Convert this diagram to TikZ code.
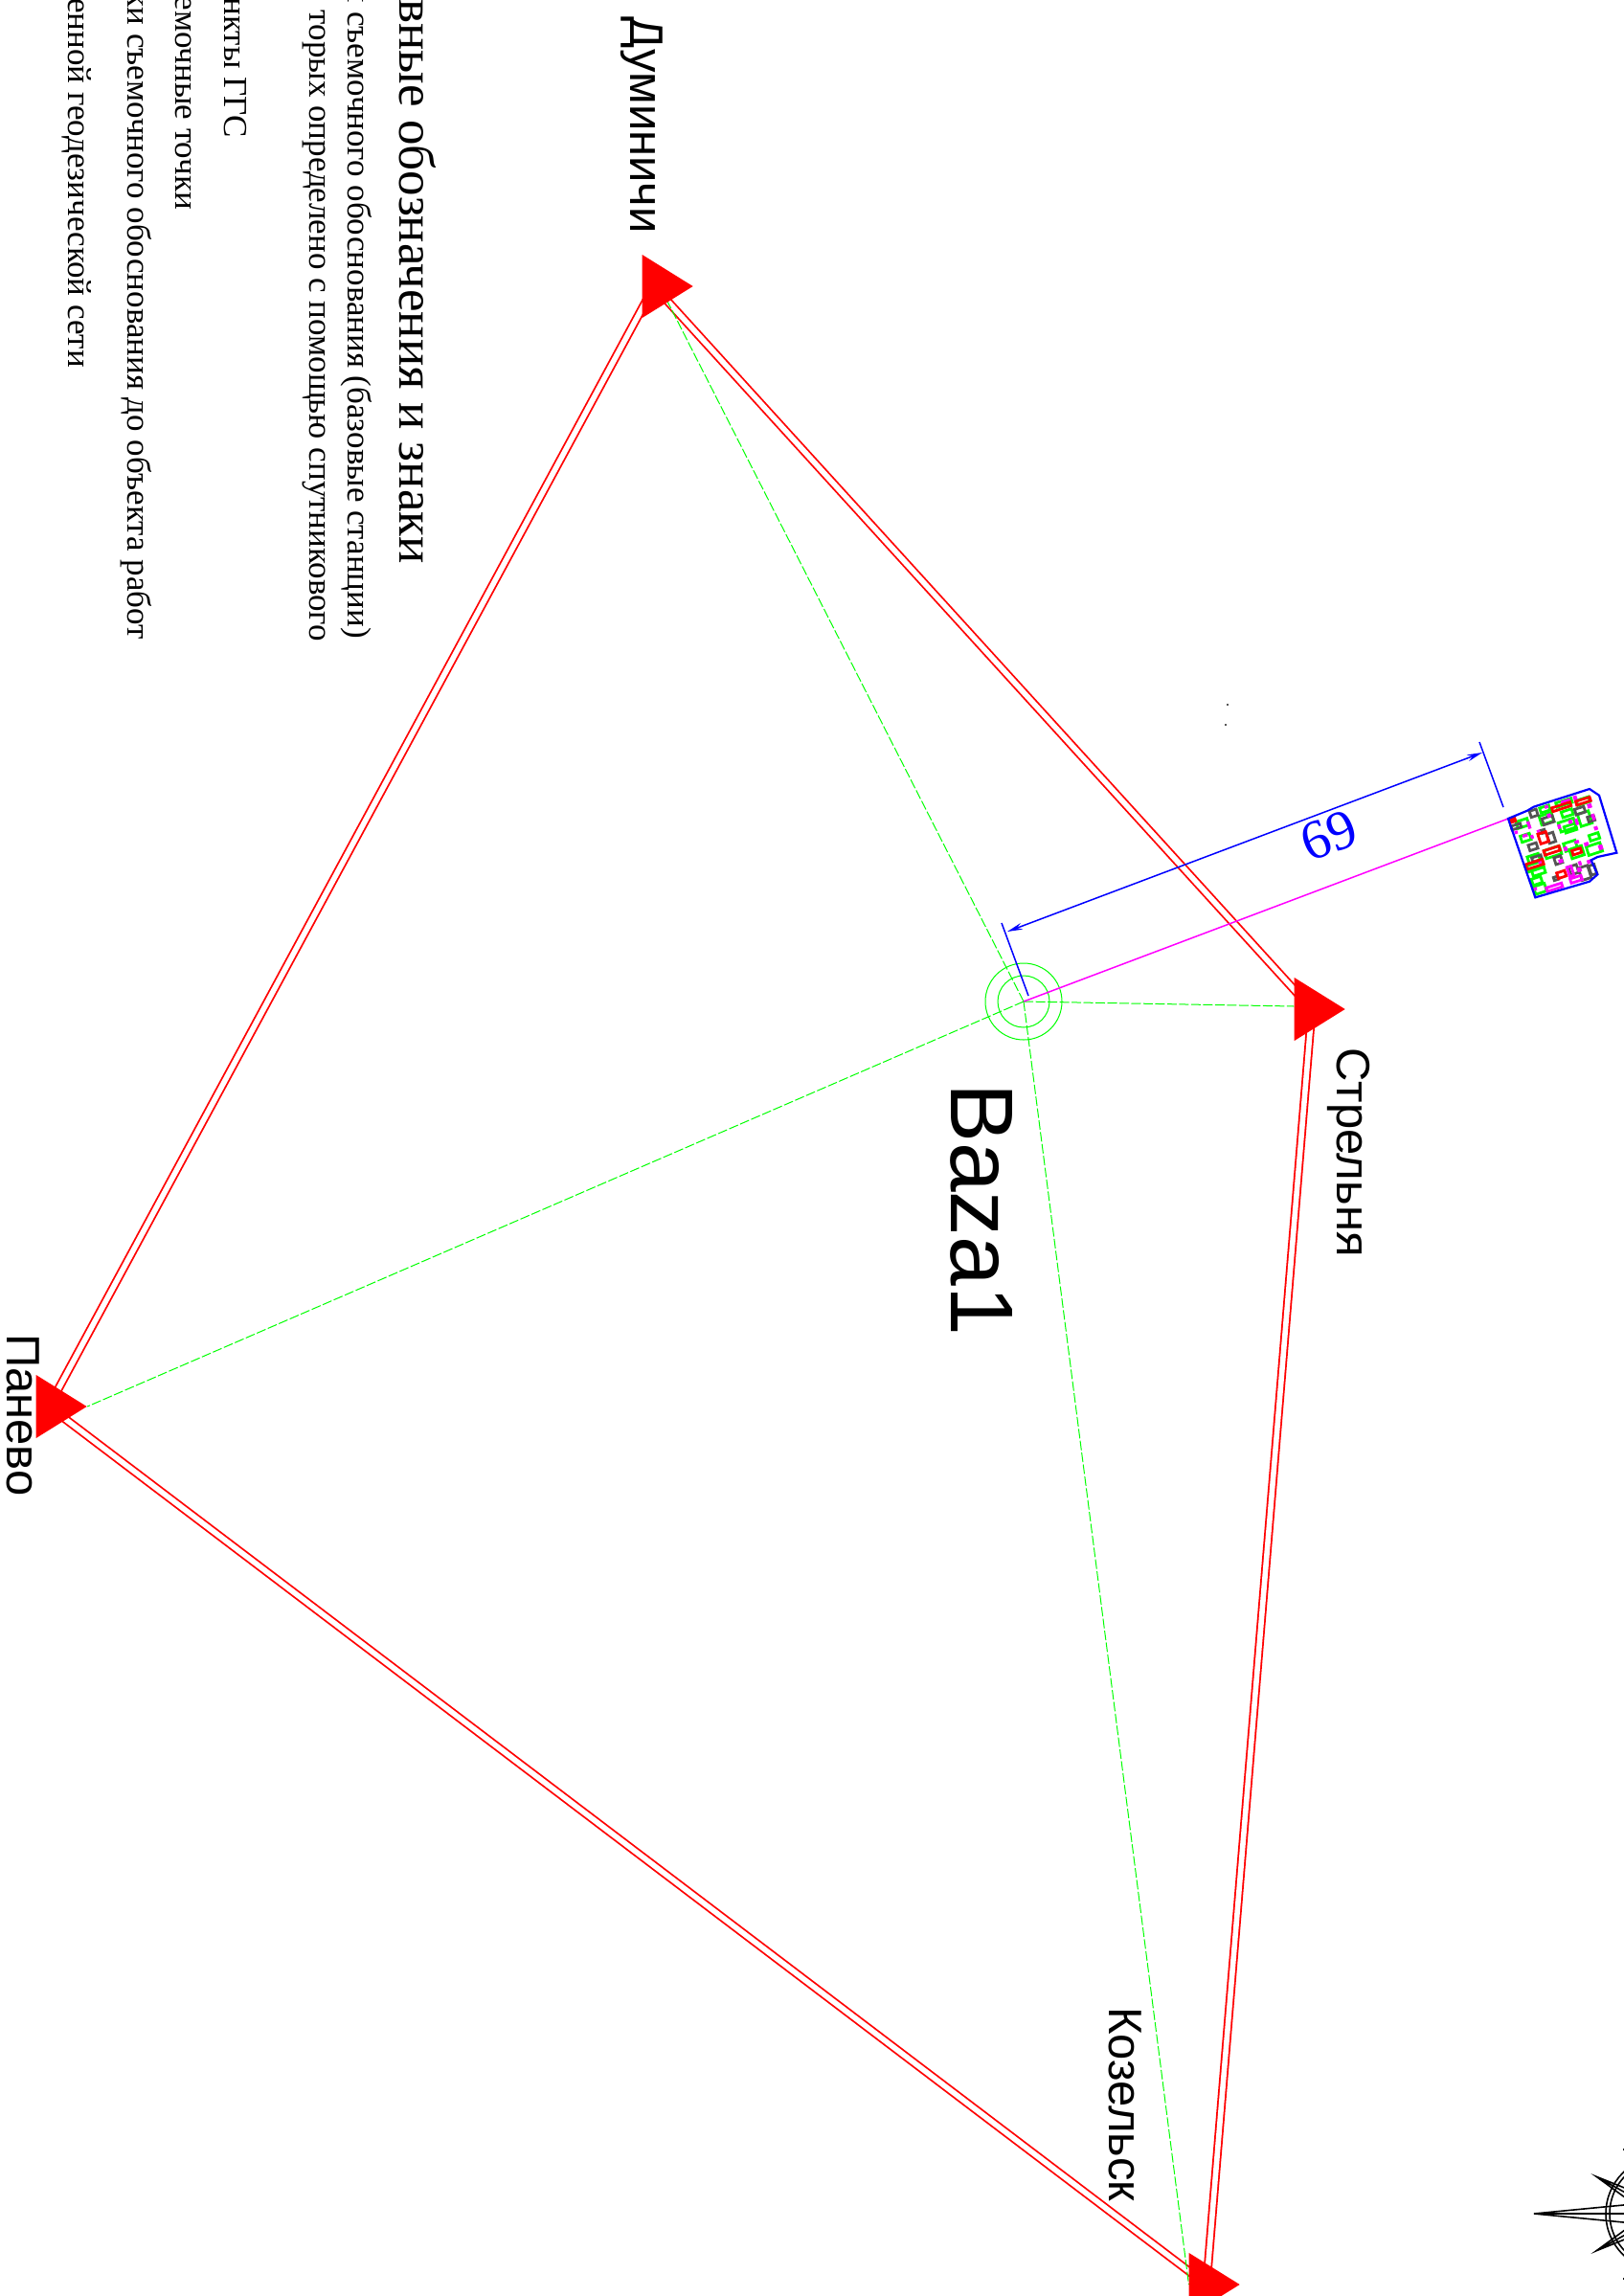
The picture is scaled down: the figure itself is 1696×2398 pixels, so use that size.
\documentclass[tikz,border=0pt]{standalone}
\usepackage{fontspec}
\setmainfont{Liberation Serif}
\newfontfamily\labelsans{Liberation Sans}
\usetikzlibrary{shapes.geometric}
\usetikzlibrary{arrows.meta}
\usetikzlibrary{backgrounds}
\definecolor{sitemagenta}{RGB}{255,0,255}
\definecolor{sitegray}{RGB}{85,85,85}
\tikzset{
	station/.style={isosceles triangle, isosceles triangle stretches, minimum width=66pt, minimum height=53pt, inner sep=0pt, fill=red},
	redlink/.style={draw=red, line width=1.8pt, double=white, double distance=5.6pt},
	greenlink/.style={draw=green, line width=1pt, dash pattern=on 10pt off 2.5pt},
	ring/.style={circle, draw=green, line width=1pt, inner sep=0pt},
	stationlabel/.style={rotate=-90, anchor=base west, inner sep=0pt, font=\labelsans\fontsize{49}{49}\selectfont},
	legendhead/.style={rotate=-90, anchor=base east, inner sep=0pt, font=\fontsize{53}{53}\selectfont},
	legendline/.style={rotate=-90, anchor=base east, inner sep=0pt, font=\fontsize{35}{35}\selectfont},
	dimline/.style={draw=blue, line width=1.5pt},
	bld/.style={line width=2.8pt}
}
\begin{document}
\begin{tikzpicture}[x=1pt,y=-1pt]
			\useasboundingbox (0,0) rectangle (1696,2398);
			\node[legendhead] (head) at (417,589) {вные обозначения и знаки};
			\node[legendline] (leg1) at (363,667) {ы съемочного обоснования (базовые станции)};
			\node[legendline] (leg2) at (323,670) {торых определено с помощью спутникового};
			\node[legendline] (leg3) at (234,144) {нкты ГГС};
			\node[legendline] (leg4) at (183,219) {емочные точки};
			\node[legendline] (leg5) at (133,668) {ки съемочного обоснования до объекта работ};
			\node[legendline] (leg6) at (71,384) {енной геодезической сети};
			\node[station] (dum) at (689,299) {};
			\node[station] (strel) at (1370,1054) {};
			\node[station] (pan) at (56,1469) {};
			\node[station] (koz) at (1260,2386) {};
			\node[stationlabel] (dumlabel) at (658,17) {Думиничи};
			\node[stationlabel] (strellabel) at (1396,1094) {Стрельня};
			\node[stationlabel] (panlabel) at (7,1393) {Панево};
			\node[stationlabel] (kozlabel) at (1158,2096) {Козельск};
			\node[ring, minimum size=80pt] (bazaout) at (1069,1046) {};
			\node[ring, minimum size=54pt] (baza) at (1069,1046) {};
			\node[rotate=-90, anchor=base west, inner sep=0pt, font=\labelsans\fontsize{93}{93}\selectfont] (bazalabel) at (993,1131) {Baza1};
			\begin{scope}[on background layer]
				\draw [redlink] ([xshift=-6pt]dum.center) to (strel.center);
				\draw [redlink] (strel.center) to (koz.center);
				\draw [redlink] (koz.center) to ([xshift=-5pt]pan.center);
				\draw [redlink] ([xshift=-5pt]pan.center) to ([xshift=-6pt]dum.center);
				\draw [greenlink] (baza.center) to (dum.center);
				\draw [greenlink] (baza.center) to ([yshift=3pt]strel.west);
				\draw [greenlink] (baza.center) to (pan.east);
				\draw [greenlink] (baza.center) to (koz.west);
			\end{scope}
			\coordinate (sitecorner) at (1575,855);
			\coordinate (exta) at (1074,1040);
			\coordinate (extb) at (1046,964);
			\coordinate (extc) at (1570,843);
			\coordinate (extd) at (1545,775);
			\coordinate (dima) at (1052,973);
			\coordinate (dimb) at (1548,786);
			\draw [sitemagenta, line width=1.5pt] (baza.center) to (sitecorner);
			\draw [dimline] (exta) to (extb);
			\draw [dimline] (extc) to (extd);
			\draw [dimline, {Stealth[length=16pt,width=7pt]}-{Stealth[length=16pt,width=7pt]}] (dima) to (dimb);
			\node[rotate=20.7, text=blue, inner sep=0pt, font=\fontsize{58}{58}\selectfont] (dimlabel) at (1388,873) {69};
			\fill [sitegray] (1281,735) rectangle (1283,737);
			\fill [sitegray] (1279,756) rectangle (1281,758);
			\begin{scope}[shift={(1540,800)},scale=1/3]
				\foreach \cx/\cy/\w/\h in {150/180/36/22,160/225/30/20,185/290/36/22,200/330/40/20,195/360/30/20,205/385/36/25,220/135/30/16,290/148/34/18,225/165/40/28,290/185/50/30,300/195/36/20,345/165/36/40,375/222/30/18,375/260/45/28,300/250/38/25,245/270/50/26,340/110/40/16,280/115/50/14,320/270/40/30,190/315/50/20}
					\draw [bld, green, shift={(\cx,\cy)}, rotate=18] (-\w/2,-\h/2) rectangle (\w/2,\h/2);
				\foreach \cx/\cy/\w/\h in {185/148/22/20,230/170/34/20,130/190/30/12,240/225/20/30,183/253/26/18,195/290/30/14,262/295/22/22,330/140/30/18,365/165/20/16,310/325/26/26,345/335/30/40,370/325/18/30,255/352/14/10,215/205/10/10}
					\draw [bld, sitegray, shift={(\cx,\cy)}, rotate=18] (-\w/2,-\h/2) rectangle (\w/2,\h/2);
				\foreach \cx/\cy/\w/\h in {170/185/10/24,158/218/16/10,180/222/10/12,130/208/10/10,200/205/10/10,233/155/12/12,225/128/12/10,315/100/12/14,285/110/30/10,265/190/10/14,300/175/12/12,320/175/10/20,360/125/14/14,372/160/10/20,380/195/12/12,350/245/14/12,320/238/14/10,285/260/12/14,270/298/14/12,328/325/14/14,330/305/10/14,358/300/12/12,190/385/10/10,205/300/12/12,395/255/14/16}
					\fill [sitemagenta, shift={(\cx,\cy)}, rotate=18] (-\w/2,-\h/2) rectangle (\w/2,\h/2);
				\foreach \cx/\cy/\w/\h in {300/330/14/30,318/355/36/14,250/380/50/12}
					\draw [bld, sitemagenta, shift={(\cx,\cy)}, rotate=18] (-\w/2,-\h/2) rectangle (\w/2,\h/2);
				\foreach \cx/\cy/\w/\h in {215/225/26/32,242/265/50/14,320/268/28/14,188/308/55/16,272/340/26/18,272/128/60/12,340/110/46/12}
					\draw [bld, red, shift={(\cx,\cy)}, rotate=18] (-\w/2,-\h/2) rectangle (\w/2,\h/2);
				\fill [red, shift={(120,169)}, rotate=18] (-11,-10) rectangle (11,10);
				\draw [blue, line width=2.2pt] (105,165) -- (165,140) -- (185,128) -- (360,72) -- (390,92) -- (445,272) -- (385,285) -- (365,295) -- (385,340) -- (360,362) -- (190,412) -- cycle;
			\end{scope}
			\draw [line width=1.6pt] (1737,2312) circle [radius=60pt];
			\draw [line width=1.6pt] (1737,2312) circle [radius=56pt];
			\foreach \ang/\len/\wid in {0/135/13,29/80/10,-29/80/10}
				\draw [line width=1.6pt, shift={(1737,2312)}, rotate=\ang] (0,-\wid) -- (-\len,0) -- (0,\wid) (-\len,0) -- (0,0);
			\fill (1695,2244) rectangle (1696,2246);
			\fill (1695,2379) rectangle (1696,2381);
\end{tikzpicture}
\end{document}
